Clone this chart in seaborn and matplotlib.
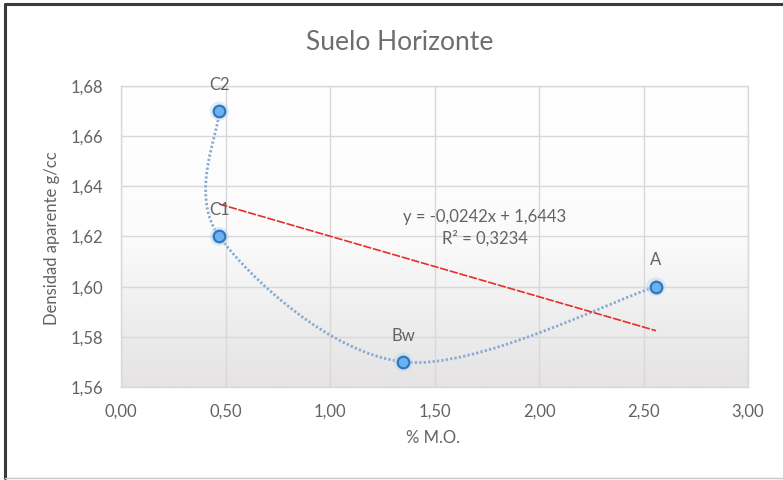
import numpy as np
import pandas as pd
import matplotlib
matplotlib.use("Agg")
import matplotlib.pyplot as plt
import seaborn as sns
from matplotlib.path import Path
from matplotlib.patches import PathPatch
from matplotlib.lines import Line2D
from matplotlib.colors import LinearSegmentedColormap
from matplotlib.ticker import FuncFormatter, MultipleLocator

# ---- data ----
horizons = ["C2", "C1", "Bw", "A"]
materia_organica = [0.47, 0.47, 1.35, 2.56]
densidad = [1.67, 1.62, 1.57, 1.60]
equation_text = "y = -0,0242x + 1,6443"
r2_text = "R\u00b2 = 0,3234"
title_text = "Suelo Horizonte"
xlabel_text = "% M.O."
ylabel_text = "Densidad aparente g/cc"

df = pd.DataFrame({"mo": materia_organica, "dens": densidad, "hz": horizons})

sns.set_theme(style="white")
plt.rcParams["font.family"] = ["Lato", "DejaVu Sans"]
TXT = "#636363"

W, H = 783, 480
fig = plt.figure(figsize=(W / 100, H / 100), dpi=100)
fig.patch.set_facecolor("white")
L, R, T, B = 121, 748, 86, 387
ax = fig.add_axes([L / W, 1 - B / H, (R - L) / W, (B - T) / H])

# gradient background of plot area
cmap = LinearSegmentedColormap.from_list("g", ["#ffffff", "#fbfbfb", "#e5e3e3"])
ax.imshow(np.linspace(0, 1, 256).reshape(-1, 1), cmap=cmap, extent=[0, 1, 0, 1],
          transform=ax.transAxes, aspect="auto", zorder=0, interpolation="bilinear")

ax.set_xlim(0, 3)
ax.set_ylim(1.56, 1.68)
ax.xaxis.set_major_locator(MultipleLocator(0.5))
ax.yaxis.set_major_locator(MultipleLocator(0.02))
ax.xaxis.set_major_formatter(FuncFormatter(lambda v, p: f"{v:.2f}".replace(".", ",")))
ax.yaxis.set_major_formatter(FuncFormatter(lambda v, p: f"{v:.2f}".replace(".", ",")))
ax.grid(True, color="#d8d8d8", linewidth=1.0, zorder=1)
ax.set_axisbelow(True)
for s in ax.spines.values():
    s.set_color("#d8d8d8")
    s.set_linewidth(1.0)
ax.tick_params(axis="both", length=0, colors=TXT, labelsize=12)
ax.tick_params(axis="x", pad=12)
ax.tick_params(axis="y", pad=13)

# smoothed line (Excel-style Bezier smoothing, computed in display space)
fig.canvas.draw()
pts = ax.transData.transform(np.column_stack([materia_organica, densidad]))
n = len(pts)
verts = [pts[0]]
codes = [Path.MOVETO]
for i in range(n - 1):
    d0 = (pts[min(i + 1, n - 1)] - pts[max(i - 1, 0)]) / 6.0
    d1 = (pts[min(i + 2, n - 1)] - pts[i]) / 6.0
    verts += [pts[i] + d0, pts[i + 1] - d1, pts[i + 1]]
    codes += [Path.CURVE4] * 3
verts = ax.transData.inverted().transform(np.array(verts))
patch = PathPatch(Path(verts, codes), fill=False, edgecolor="#86aad4", linewidth=2.0,
                  linestyle=(0, (0.8, 0.8)), zorder=3)
ax.add_patch(patch)

# trendline
sns.regplot(data=df, x="mo", y="dens", scatter=False, ci=None, truncate=True, ax=ax,
            line_kws=dict(color="#e3302f", linewidth=1.2, linestyle=(0, (5, 1)), zorder=4))

# markers with a soft glow
sns.scatterplot(data=df, x="mo", y="dens", ax=ax, s=190, color="#bcd9f3", alpha=0.45,
                edgecolor="none", zorder=5, legend=False)
sns.scatterplot(data=df, x="mo", y="dens", ax=ax, s=70, color="#6ab3f2",
                edgecolor="#3277bd", linewidth=1.6, zorder=6, legend=False)

for hz, x, y in zip(horizons, materia_organica, densidad):
    ax.annotate(hz, (x, y), xytext=(0, 19), textcoords="offset points", ha="center",
                va="center", color=TXT, fontsize=12, zorder=7)

ax.text((485 - L) / (R - L), (B - 228) / (B - T), equation_text + "\n" + r2_text,
        transform=ax.transAxes, ha="center", va="center", color=TXT, fontsize=12,
        linespacing=1.35, zorder=7)

ax.set_xlabel("")
ax.set_ylabel("")
fig.text(400 / W, 1 - 42 / H, title_text, ha="center", va="center", color="#6e6e6e", fontsize=19)
fig.text(433 / W, 1 - 438 / H, xlabel_text, ha="center", va="center", color=TXT, fontsize=12)
fig.text(52 / W, 1 - 238 / H, ylabel_text, ha="center", va="center", color=TXT,
         fontsize=12, rotation=90)

# outer chart frame
fig.add_artist(Line2D([5 / W, 5 / W], [1 - 4 / H, 1 - 478 / H], color="#3a3a3a", linewidth=2.2,
                      transform=fig.transFigure))
fig.add_artist(Line2D([5 / W, 1.0], [1 - 4 / H, 1 - 4 / H], color="#3a3a3a", linewidth=2.2,
                      transform=fig.transFigure))
fig.add_artist(Line2D([5 / W, 1.0], [1 - 478 / H, 1 - 478 / H], color="#c8c8c8", linewidth=1.0,
                      transform=fig.transFigure))

fig.savefig("out.png", dpi=100)
